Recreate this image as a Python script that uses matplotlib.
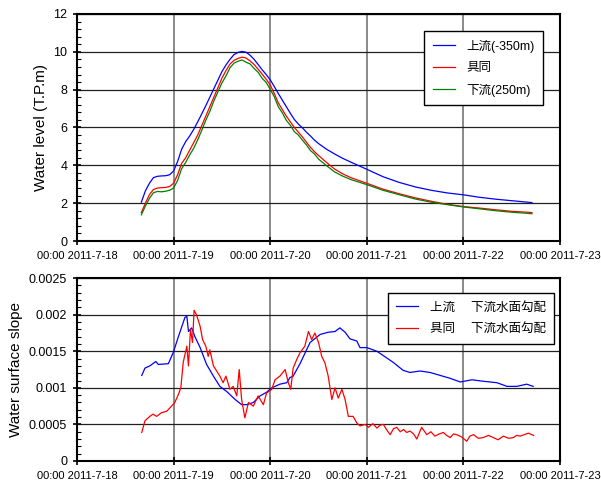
import numpy as np
import pandas as pd
import matplotlib
matplotlib.use("Agg")
import matplotlib.pyplot as plt
import matplotlib.dates as mdates
from matplotlib.ticker import MultipleLocator, FuncFormatter

plt.rcParams['font.family'] = ['Liberation Sans', 'Noto Sans CJK JP', 'DejaVu Sans']

t0 = pd.Timestamp("2011-07-18 00:00")

# water level (T.P.m), hours from 2011-7-18 00:00
lvl_hours = list(range(16, 61)) + [62, 64, 66, 68, 72, 76, 80, 84, 88, 92, 96, 100,
                                   104, 108, 112, 113]
lvl_up = [2.05, 2.65, 3.05, 3.35, 3.42, 3.44, 3.45, 3.5, 3.7, 4.2, 4.85, 5.25, 5.55,
          5.9, 6.3, 6.72, 7.15, 7.6, 8.05, 8.5, 8.95, 9.3, 9.6, 9.85, 9.97, 10.02,
          9.98, 9.82, 9.6, 9.33, 9.05, 8.8, 8.52, 8.17, 7.8, 7.45, 7.1, 6.75, 6.42,
          6.18, 5.98, 5.75, 5.55, 5.33, 5.15,
          4.85, 4.6, 4.37, 4.17, 3.79, 3.4, 3.1, 2.86, 2.68, 2.54, 2.44, 2.31, 2.21,
          2.13, 2.05, 2.03]
lvl_gudo = [1.5, 2.0, 2.45, 2.72, 2.8, 2.82, 2.83, 2.88, 3.05, 3.5, 4.1, 4.4, 4.8,
            5.2, 5.6, 6.1, 6.6, 7.1, 7.6, 8.1, 8.6, 9.0, 9.35, 9.55, 9.65, 9.72,
            9.67, 9.52, 9.33, 9.08, 8.82, 8.55, 8.25, 7.8, 7.3, 6.95, 6.6, 6.3, 6.0,
            5.75, 5.5, 5.22, 4.95, 4.72, 4.52,
            4.15, 3.8, 3.55, 3.35, 3.05, 2.74, 2.5, 2.28, 2.1, 1.94, 1.82, 1.74, 1.65,
            1.57, 1.52, 1.5]
lvl_down = [1.38, 1.85, 2.25, 2.55, 2.62, 2.6, 2.63, 2.68, 2.8, 3.2, 3.82, 4.15, 4.55,
            4.9, 5.35, 5.85, 6.38, 6.85, 7.4, 7.88, 8.35, 8.72, 9.15, 9.4, 9.5, 9.57,
            9.45, 9.36, 9.12, 8.92, 8.6, 8.38, 8.02, 7.63, 7.1, 6.78, 6.38, 6.12, 5.78,
            5.6, 5.33, 5.08, 4.78, 4.6, 4.33,
            3.98, 3.65, 3.43, 3.25, 2.98, 2.68, 2.45, 2.22, 2.05, 1.92, 1.8, 1.7, 1.6,
            1.52, 1.46, 1.44]

# water surface slope, upstream - downstream
slope_up_hours = [16.1, 16.9, 18.1, 19.6, 20.2, 22.7, 23.9, 25.2, 26.8, 27.3, 27.7,
                  28.5, 29.3, 30.6, 32.2, 33.9, 35.5, 37.2, 39.3, 40.9, 42.2, 43.8,
                  45.5, 47.1, 48.4, 50.4, 52.1, 52.9, 53.7, 55.4, 57.9, 60.4, 62.4,
                  64.1, 65.3, 66.6, 67.8, 69.5, 70.3, 72.0, 74.5, 76.9, 78.5, 81.0,
                  82.7, 85.2, 87.7, 90.2, 92.7, 95.2, 98.1, 100.9, 104.3, 106.8,
                  109.2, 111.7, 113.3]
slope_up = [0.00117, 0.00127, 0.0013, 0.00136, 0.00132, 0.00133, 0.00148, 0.0017,
            0.00196, 0.00198, 0.00177, 0.00182, 0.0017, 0.00155, 0.00132, 0.00116,
            0.00102, 0.00095, 0.00084, 0.00077, 0.00077, 0.0008, 0.00089, 0.00094,
            0.001, 0.00105, 0.00107, 0.00114, 0.00116, 0.00133, 0.00162, 0.00173,
            0.00176, 0.00177, 0.00182, 0.00176, 0.00167, 0.00164, 0.00155, 0.00155,
            0.0015, 0.00141, 0.00135, 0.00124, 0.00121, 0.00123, 0.00121, 0.00117,
            0.00113, 0.00108, 0.00111, 0.00109, 0.00107, 0.00102, 0.00102, 0.00105,
            0.00102]

# water surface slope, Gudo - downstream
slope_gudo_hours = [16.1, 16.9, 18.1, 18.9, 19.8, 21.0, 22.3, 23.5, 24.3, 25.2, 25.8,
                    26.4, 27.3, 27.7, 28.2, 28.7, 29.1, 29.7, 30.6, 31.2, 32.0, 32.6,
                    33.0, 33.9, 34.7, 35.5, 36.3, 37.0, 38.0, 38.8, 39.7, 40.3, 40.9,
                    41.7, 42.6, 43.8, 45.0, 46.3, 47.1, 48.4, 49.2, 50.4, 51.7, 52.5,
                    53.1, 53.7, 54.6, 55.4, 56.6, 57.5, 58.3, 59.1, 60.0, 60.8, 61.6,
                    62.4, 63.3, 64.1, 64.9, 65.8, 66.6, 67.4, 68.6, 69.5, 70.3, 71.6,
                    72.4, 73.5, 74.5, 75.3, 76.1, 77.0, 77.8, 78.6, 79.4, 80.3, 81.1,
                    81.9, 82.7, 83.6, 84.4, 85.6, 86.9, 87.9, 88.9, 90.0, 91.0, 91.8,
                    92.7, 93.5, 94.3, 95.5, 96.8, 97.6, 98.5, 99.7, 100.9, 102.2,
                    103.4, 104.6, 105.9, 107.2, 108.4, 109.2, 110.1, 111.1, 112.1,
                    113.4]
slope_gudo = [0.00039, 0.00055, 0.00061, 0.00064, 0.00061, 0.00066, 0.00068, 0.00075,
              0.0008, 0.00091, 0.001, 0.00135, 0.00157, 0.0013, 0.0018, 0.00162,
              0.00206, 0.002, 0.00184, 0.00166, 0.00157, 0.00143, 0.00152, 0.0013,
              0.00123, 0.00116, 0.00107, 0.00116, 0.00098, 0.00102, 0.00089, 0.00125,
              0.00084, 0.00059, 0.0008, 0.00075, 0.00089, 0.00077, 0.00093, 0.00098,
              0.00111, 0.00116, 0.00125, 0.00107, 0.00098, 0.00127, 0.00139, 0.00148,
              0.00157, 0.00177, 0.00166, 0.00175, 0.00162, 0.00143, 0.00134, 0.00116,
              0.00084, 0.001, 0.00086, 0.00098, 0.00084, 0.00061, 0.00061, 0.00052,
              0.00048, 0.0005, 0.00046, 0.00051, 0.00045, 0.00049, 0.0005, 0.00042,
              0.00036, 0.00044, 0.00046, 0.0004, 0.00043, 0.00039, 0.00041, 0.00037,
              0.0003, 0.00046, 0.00036, 0.0004, 0.00034, 0.00037, 0.00039, 0.00035,
              0.00032, 0.00037, 0.00036, 0.00033, 0.00027, 0.00034, 0.00036, 0.00031,
              0.00032, 0.00035, 0.00032, 0.00029, 0.00034, 0.00031, 0.00032, 0.00035,
              0.00034, 0.00036, 0.00038, 0.00035]


def to_time(hours):
    return t0 + pd.to_timedelta(np.array(hours), unit="h")


def date_label(x, pos):
    d = mdates.num2date(x)
    return f"{d:%H:%M} {d.year}-{d.month}-{d.day}"


def style_axes(ax):
    ax.set_xlim(t0, t0 + pd.Timedelta(days=5))
    ax.xaxis.set_major_locator(mdates.DayLocator())
    ax.xaxis.set_major_formatter(FuncFormatter(date_label))
    ax.grid(True, axis="x", color="#808080", lw=1.3)
    ax.grid(True, axis="y", color="#202020", lw=0.9)
    ax.tick_params(which="major", direction="inout", length=6, width=1.2,
                   labelsize=8, pad=4)
    ax.tick_params(which="minor", direction="in", length=3, width=0.8)
    ax.tick_params(axis="x", which="minor", bottom=False)
    for sp in ax.spines.values():
        sp.set_linewidth(1.5)
    ax.set_axisbelow(True)


def add_legend(ax, anchor):
    leg = ax.legend(loc="upper right", bbox_to_anchor=anchor, borderaxespad=0,
                    fontsize=9, fancybox=False, edgecolor="black", framealpha=1,
                    handlelength=1.75, handletextpad=0.9, labelspacing=0.75,
                    borderpad=0.7)
    leg.get_frame().set_linewidth(1.0)


fig = plt.figure(figsize=(6.01, 4.82), dpi=100)
ax1 = fig.add_axes([0.128, 0.5, 0.804, 0.471])
ax2 = fig.add_axes([0.128, 0.0436, 0.804, 0.3794])

ax1.plot(to_time(lvl_hours), lvl_up, color="#0000ff", lw=0.9, label="上流(-350m)")
ax1.plot(to_time(lvl_hours), lvl_gudo, color="#ff0000", lw=0.9, label="具同")
ax1.plot(to_time(lvl_hours), lvl_down, color="#008000", lw=0.9, label="下流(250m)")
style_axes(ax1)
ax1.set_ylim(0, 12)
ax1.yaxis.set_major_locator(MultipleLocator(2))
ax1.yaxis.set_minor_locator(MultipleLocator(0.4))
ax1.tick_params(axis="y", labelsize=9)
ax1.set_ylabel("Water level (T.P.m)", fontsize=11)
add_legend(ax1, (0.965, 0.925))

ax2.plot(to_time(slope_up_hours), slope_up, color="#0000ff", lw=0.9,
         label="上流　 下流水面勾配")
ax2.plot(to_time(slope_gudo_hours), slope_gudo, color="#ff0000", lw=0.9,
         label="具同　 下流水面勾配")
style_axes(ax2)
ax2.set_ylim(0, 0.0025)
ax2.yaxis.set_major_locator(MultipleLocator(0.0005))
ax2.yaxis.set_minor_locator(MultipleLocator(0.0001))
ax2.yaxis.set_major_formatter(FuncFormatter(lambda v, p: f"{v:g}"))
ax2.tick_params(axis="y", labelsize=9)
ax2.set_ylabel("Water surface slope", fontsize=11)
add_legend(ax2, (0.988, 0.918))

fig.savefig("out.png", dpi=100)
